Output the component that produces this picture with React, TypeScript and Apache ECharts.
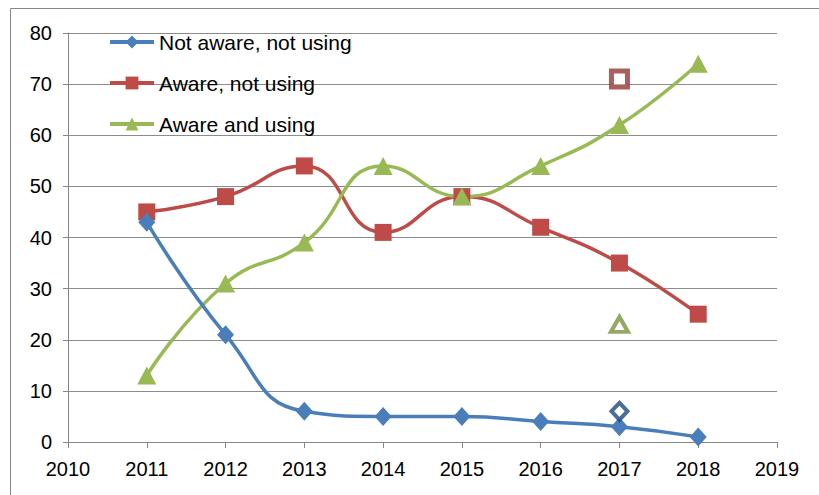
import React, { useEffect, useRef } from "react";
import * as echarts from "echarts";

const years = [2011, 2012, 2013, 2014, 2015, 2016, 2017, 2018];
const notAwareNotUsing = [43, 21, 6, 5, 5, 4, 3, 1];
const awareNotUsing = [45, 48, 54, 41, 48, 42, 35, 25];
const awareAndUsing = [13, 31, 39, 54, 48, 54, 62, 74];
const extraYear = 2017;
const extraNotAware = 6;
const extraAwareNotUsing = 71;
const extraAwareUsing = 23;

const FONT = "'Liberation Sans', Arial, sans-serif";
const BLUE = "#4A7EBB";
const RED = "#BE4B48";
const GREEN = "#98B954";

export default function App() {
  const ref = useRef<HTMLDivElement>(null);
  useEffect(() => {
    if (!ref.current) return;
    const chart = echarts.init(ref.current, undefined, { renderer: "svg" });
    const pair = (arr: number[]) => years.map((y, i) => [y, arr[i]]);
    chart.setOption({
      animation: false,
      backgroundColor: "#fff",
      graphic: [
        {
          type: "rect",
          shape: { x: 10.5, y: 8.5, width: 1000, height: 1000 },
          style: { fill: "none", stroke: "#868686", lineWidth: 1 },
          silent: true,
          z: -10,
        },
      ],
      grid: { left: 68, right: 42, top: 33, bottom: 53, containLabel: false },
      legend: {
        orient: "vertical",
        left: 108,
        top: 31,
        padding: 0,
        itemWidth: 44,
        itemHeight: 16,
        itemGap: 19,
        lineStyle: { width: 4 },
        data: ["Not aware, not using", "Aware, not using", "Aware and using"],
        textStyle: { fontFamily: FONT, fontSize: 21, color: "#000", lineHeight: 22 },
      },
      xAxis: {
        type: "value",
        min: 2010,
        max: 2019,
        interval: 1,
        axisLine: { show: true, lineStyle: { color: "#868686", width: 1 } },
        axisTick: { show: true, length: 6, lineStyle: { color: "#868686" } },
        splitLine: { show: false },
        axisLabel: { fontFamily: FONT, fontSize: 20, color: "#000", margin: 17, formatter: (v: number) => String(v) },
      },
      yAxis: {
        type: "value",
        min: 0,
        max: 80,
        interval: 10,
        axisLine: { show: true, lineStyle: { color: "#868686", width: 1 } },
        axisTick: { show: true, length: 5, lineStyle: { color: "#868686" } },
        splitLine: { show: true, lineStyle: { color: "#8c8c8c", width: 1 } },
        axisLabel: { fontFamily: FONT, fontSize: 20, color: "#000", margin: 16 },
      },
      series: [
        {
          name: "Not aware, not using",
          type: "line",
          data: pair(notAwareNotUsing),
          smooth: 0.5,
          symbol: "diamond",
          symbolSize: [17, 19],
          lineStyle: { color: BLUE, width: 3.5 },
          itemStyle: { color: BLUE },
          z: 3,
        },
        {
          name: "Aware, not using",
          type: "line",
          data: pair(awareNotUsing),
          smooth: 0.5,
          symbol: "rect",
          symbolSize: 17,
          lineStyle: { color: RED, width: 3.5 },
          itemStyle: { color: RED },
          z: 2,
        },
        {
          name: "Aware and using",
          type: "line",
          data: pair(awareAndUsing),
          smooth: 0.5,
          symbol: "triangle",
          symbolSize: [19, 18],
          lineStyle: { color: GREEN, width: 3.5 },
          itemStyle: { color: GREEN },
          z: 2,
        },
        {
          name: "extra-not-aware",
          type: "scatter",
          data: [[extraYear, extraNotAware]],
          symbol: "diamond",
          symbolSize: [16, 17],
          itemStyle: { color: "#fff", borderColor: "#1F497D", borderWidth: 4 },
          z: 4,
        },
        {
          name: "extra-aware-not-using",
          type: "scatter",
          data: [[extraYear, extraAwareNotUsing]],
          symbol: "rect",
          symbolSize: 16,
          itemStyle: { color: "#fff", borderColor: "#953735", borderWidth: 5 },
          z: 4,
        },
        {
          name: "extra-aware-using",
          type: "scatter",
          data: [[extraYear, extraAwareUsing]],
          symbol: "triangle",
          symbolSize: [17, 15],
          itemStyle: { color: "#fff", borderColor: "#77933C", borderWidth: 4 },
          z: 4,
        },
      ],
    });
    return () => chart.dispose();
  }, []);
  return (
    <div
      ref={ref}
      style={{ position: "absolute", left: 0, top: 0, width: 819, height: 495 }}
    />
  );
}
